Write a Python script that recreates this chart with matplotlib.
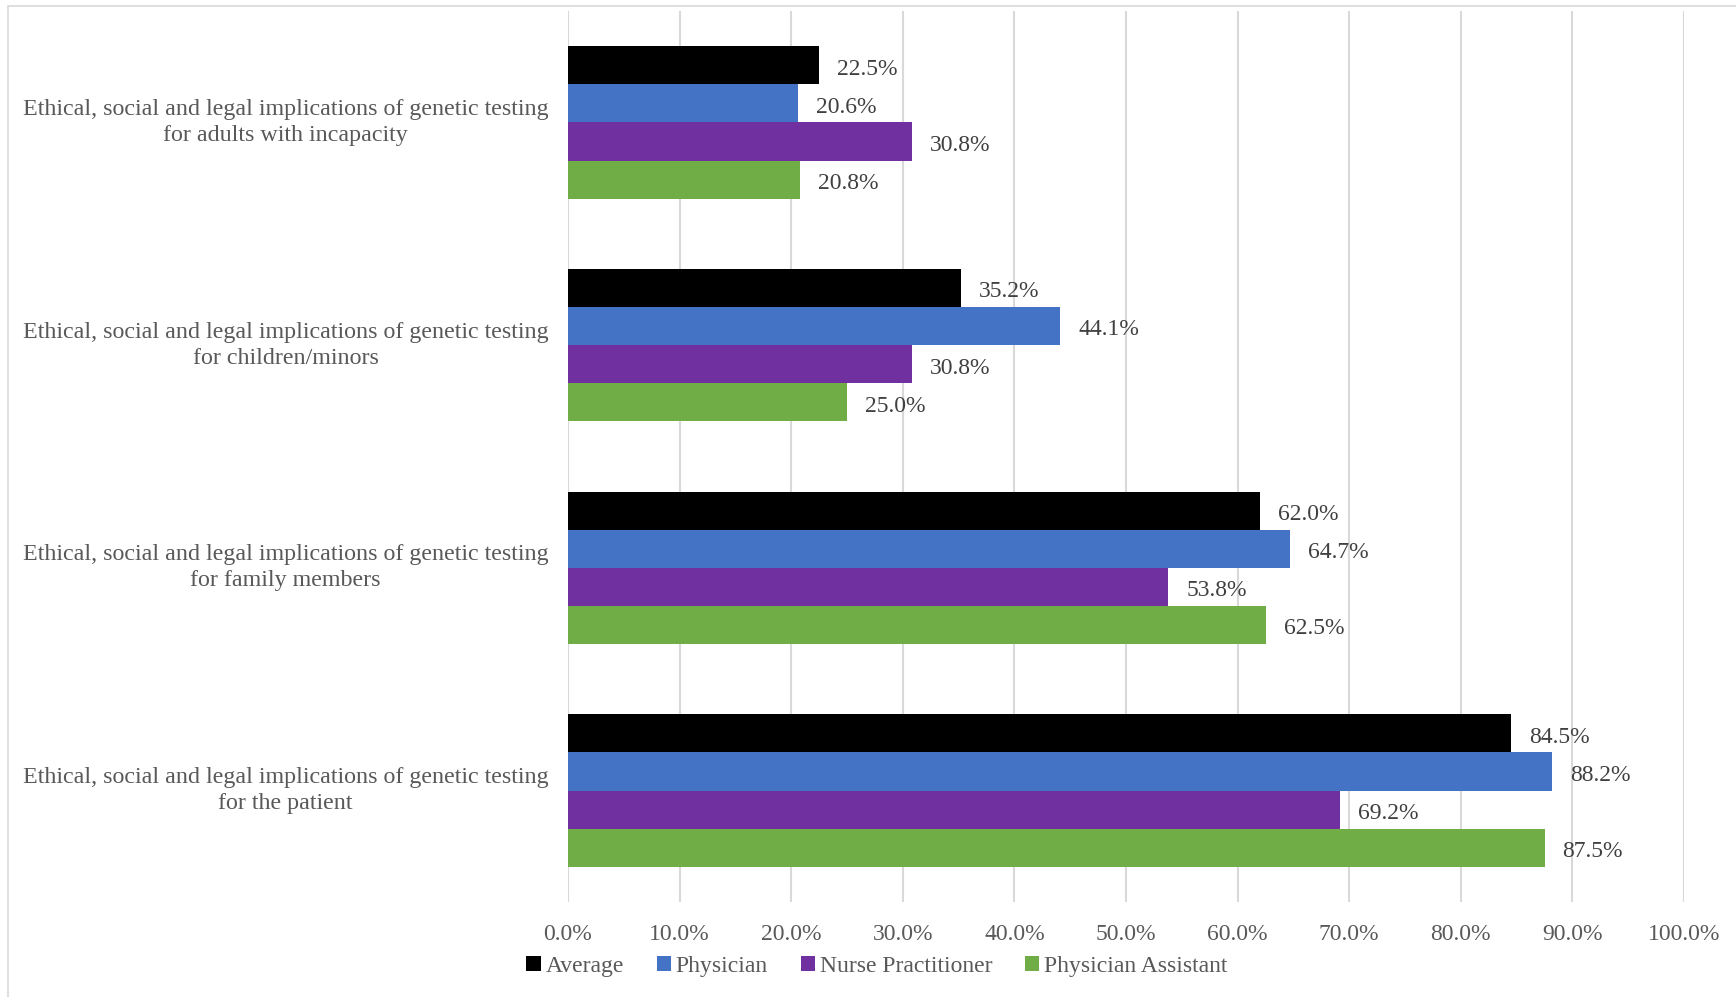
import matplotlib.pyplot as plt
import numpy as np
from matplotlib.patches import Patch, Rectangle

# Datos del gráfico
categorias = [
    "Ethical, social and legal implications of genetic testing\nfor adults with incapacity",
    "Ethical, social and legal implications of genetic testing\nfor children/minors",
    "Ethical, social and legal implications of genetic testing\nfor family members",
    "Ethical, social and legal implications of genetic testing\nfor the patient",
]
series = ["Average", "Physician", "Nurse Practitioner", "Physician Assistant"]
average = [22.5, 35.2, 62.0, 84.5]
physician = [20.6, 44.1, 64.7, 88.2]
nurse_practitioner = [30.8, 30.8, 53.8, 69.2]
physician_assistant = [20.8, 25.0, 62.5, 87.5]
valores = [average, physician, nurse_practitioner, physician_assistant]
colores = ["#000000", "#4472C4", "#7030A0", "#70AD47"]
ticks_x = np.arange(0, 101, 10)

plt.rcParams['font.family'] = ['Liberation Serif', 'DejaVu Serif']

W, H = 1736, 997
fig = plt.figure(figsize=(W / 100, H / 100), dpi=100)
ax = fig.add_axes([568 / W, 1 - 902 / H, (1684 - 568) / W, (902 - 11) / H])

# Marco exterior del gráfico
fig.patches.append(Rectangle((8 / W, -0.05), 1.2, 1 - 6 / H + 0.05,
                             transform=fig.transFigure, fill=False,
                             edgecolor='#d9d9d9', lw=1.2))

y = np.arange(len(categorias))
alto = 0.685 / len(series)
for j, (nombre, vals, color) in enumerate(zip(series, valores, colores)):
    pos = y + (j - 1.5) * alto
    barras = ax.barh(pos, vals, height=alto, color=color, label=nombre, zorder=3)
    for b, v in zip(barras, vals):
        ax.annotate(f"{v:.1f}%", (b.get_width(), b.get_y() + b.get_height() / 2),
                    xytext=(13, -1), textcoords='offset points', va='center_baseline',
                    ha='left', fontsize=17, color='#404040')

ax.set_xlim(0, 100)
ax.set_ylim(3.5, -0.5)
ax.set_xticks(ticks_x)
ax.set_xticklabels([f"{t:.1f}%" for t in ticks_x], fontsize=17, color='#595959')
ax.set_yticks(y)
ax.set_yticklabels(categorias, fontsize=17.3, color='#595959', va='center',
                   multialignment='center', linespacing=1.3)
ax.tick_params(axis='both', length=0)
ax.tick_params(axis='x', pad=16)
ax.tick_params(axis='y', pad=14)
ax.grid(axis='x', color='#d9d9d9', lw=1.5, zorder=0)
for s in ax.spines.values():
    s.set_visible(False)

# Leyenda inferior
handles = [Patch(facecolor=c, edgecolor='none') for c in colores]
leg = fig.legend(handles, series, loc='center', bbox_to_anchor=(877 / W, 1 - 966 / H),
                 ncol=4, frameon=False, fontsize=17, handlelength=0.6,
                 handleheight=0.6, handletextpad=0.2, columnspacing=1.4)
for t in leg.get_texts():
    t.set_color('#595959')

fig.savefig("out.png", dpi=100)
